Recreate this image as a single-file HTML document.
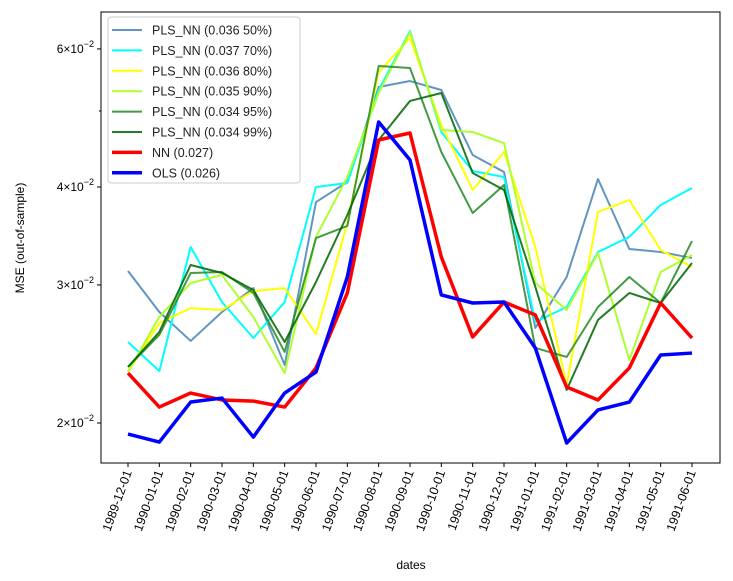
<!DOCTYPE html>
<html><head><meta charset="utf-8"><style>
body{margin:0;background:#fff;}
svg{display:block;font-family:"Liberation Sans",sans-serif;}
</style></head><body>
<svg id="chart" width="733" height="581"></svg>
<script>
const dates=["1989-12-01","1990-01-01","1990-02-01","1990-03-01","1990-04-01","1990-05-01","1990-06-01","1990-07-01","1990-08-01","1990-09-01","1990-10-01","1990-11-01","1990-12-01","1991-01-01","1991-02-01","1991-03-01","1991-04-01","1991-05-01","1991-06-01"];
const pls50=[0.03125,0.02771,0.02545,0.02771,0.02973,0.02371,0.03827,0.04059,0.05365,0.0546,0.05318,0.04394,0.0418,0.02644,0.03071,0.04095,0.03334,0.03305,0.03247];
const pls70=[0.02537,0.0233,0.03354,0.02853,0.02567,0.02853,0.04,0.04047,0.05318,0.06324,0.04701,0.04192,0.04119,0.02691,0.02812,0.03305,0.03454,0.03794,0.03988];
const pls80=[0.02323,0.02683,0.02803,0.02787,0.02947,0.02973,0.02597,0.03598,0.05606,0.06196,0.04799,0.03965,0.04433,0.03354,0.02236,0.03717,0.0385,0.03324,0.03162];
const pls90=[0.02323,0.02731,0.03017,0.03089,0.02731,0.02316,0.03454,0.04119,0.05271,0.06305,0.04729,0.04701,0.04551,0.03017,0.02787,0.03295,0.02406,0.03116,0.03276];
const pls95=[0.02358,0.0259,0.03107,0.03116,0.0293,0.02464,0.03443,0.03567,0.05706,0.05673,0.04433,0.03706,0.04024,0.02493,0.02428,0.02812,0.03071,0.02845,0.03413];
const pls99=[0.02358,0.02613,0.03181,0.03107,0.02956,0.02537,0.03026,0.03684,0.04592,0.0515,0.05271,0.04168,0.03965,0.02982,0.02204,0.02707,0.0293,0.02845,0.032];
const nn=[0.02316,0.02096,0.02184,0.0214,0.02133,0.02096,0.02351,0.0293,0.04592,0.04687,0.03256,0.02575,0.02853,0.02747,0.02223,0.0214,0.02351,0.02845,0.02567];
const ols=[0.01936,0.01891,0.02127,0.02152,0.01919,0.02184,0.02323,0.03071,0.04841,0.0433,0.02913,0.02845,0.02853,0.02493,0.01886,0.02078,0.02127,0.02442,0.02456];
const yTicks=[0.02,0.03,0.04,0.06];
const yTickLabels=["2","3","4","6"];
const seriesNames=["PLS_NN (0.036 50%)","PLS_NN (0.037 70%)","PLS_NN (0.036 80%)","PLS_NN (0.035 90%)","PLS_NN (0.034 95%)","PLS_NN (0.034 99%)","NN (0.027)","OLS (0.026)"];

const NS="http://www.w3.org/2000/svg";
const svg=document.getElementById('chart');
const L=101,R=720,T=12,B=463;
const x=i=>128+i*(692-128)/(dates.length-1);
const y=v=>423-340.5*Math.log(v/0.02);
function mk(tag,attrs,parent){const e=document.createElementNS(NS,tag);for(const k in attrs)e.setAttribute(k,attrs[k]);(parent||svg).appendChild(e);return e;}

const frame=mk('rect',{x:L,y:T,width:R-L,height:B-T,fill:'none',stroke:'#000','stroke-width':1});



yTicks.forEach((v,i)=>{
  const g=mk('g',{});
  
  
  mk('line',{x1:L-4,x2:L,y1:y(v),y2:y(v),stroke:'#000'},g);
  const t=mk('text',{x:L-7,y:y(v)+4,'text-anchor':'end','font-size':12},g);
  t.textContent=yTickLabels[i]+'\u00d710';
  const s=mk('tspan',{dy:-6,'font-size':9},t);s.textContent='\u22122';
});
const minor=mk('line',{x1:L-2,x2:L,y1:y(0.05),y2:y(0.05),stroke:'#000'});



dates.forEach((d,i)=>{
  const g=mk('g',{});
  
  
  mk('line',{x1:x(i),x2:x(i),y1:B,y2:B+4,stroke:'#000'},g);
  const t=mk('text',{x:0,y:0,'text-anchor':'end','font-size':12.5,transform:`translate(${x(i)+4},${B+9}) rotate(-70)`},g);
  t.textContent=d;
});
const xl=mk('text',{x:411,y:569,'text-anchor':'middle','font-size':12});
xl.textContent='dates';


const yl=mk('text',{x:0,y:0,'text-anchor':'middle','font-size':12,transform:'translate(24,238) rotate(-90)'});
yl.textContent='MSE (out-of-sample)';



const series=[[pls50,'#4682b4',2,0.85],[pls70,'#00ffff',2,1],[pls80,'#ffff00',2,1],[pls90,'#adff2f',2,1],[pls95,'#228b22',2,0.85],[pls99,'#006400',2,0.85],[nn,'#ff0000',3.5,1],[ols,'#0000ff',3.5,1]];
const slugs=['pls-nn-50','pls-nn-70','pls-nn-80','pls-nn-90','pls-nn-95','pls-nn-99','nn','ols'];
series.forEach((s,k)=>{
  const p=mk('polyline',{points:s[0].map((v,i)=>x(i)+','+y(v)).join(' '),fill:'none',stroke:s[1],'stroke-width':s[2],'stroke-opacity':s[3],'stroke-linejoin':'round'});
  
  
});

const lg=mk('g',{});


mk('rect',{x:108,y:17,width:192,height:166,rx:3,fill:'#fff','fill-opacity':0.8,stroke:'#ccc'},lg);
seriesNames.forEach((n,k)=>{
  const g=mk('g',{},lg);
  
  
  const yy=30+k*20.4;
  mk('line',{x1:112,x2:142,y1:yy,y2:yy,stroke:series[k][1],'stroke-width':series[k][2],'stroke-opacity':series[k][3]},g);
  const t=mk('text',{x:152,y:yy+4.5,'font-size':12.5,fill:'#222'},g);
  t.textContent=n;
});
</script>
</body></html>
